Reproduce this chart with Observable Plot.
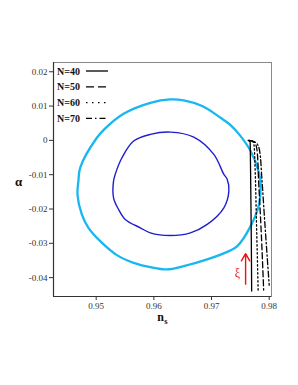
<!DOCTYPE html>
<html>
<head>
<meta charset="utf-8">
<script src="https://cdn.jsdelivr.net/npm/d3@7"></script>
<script src="https://cdn.jsdelivr.net/npm/@observablehq/plot@0.6"></script>
<style>
  html, body { margin: 0; padding: 0; background: #fff; }
  #chart { width: 298px; height: 385px; }
</style>
</head>
<body>
<div id="chart"></div>
<script>
// Outer (light blue) contour
const outerNs = [0.94692,0.94675,0.94751,0.94866,0.95070,0.95360,0.95649,0.95939,0.96230,0.96518,0.96925,0.97301,0.97447,0.97678,0.97823,0.97852,0.97823,0.97678,0.97504,0.97330,0.97157,0.96838,0.96518,0.96287,0.95939,0.95475,0.95157,0.95012,0.94722];
const outerAlpha = [-0.01187,-0.01574,-0.02157,-0.02548,-0.02936,-0.03344,-0.03569,-0.03694,-0.03761,-0.03665,-0.03469,-0.03227,-0.03082,-0.02499,-0.01866,-0.01274,-0.00945,-0.00312,0.00125,0.00446,0.00659,0.01000,0.01166,0.01195,0.01096,0.00776,0.00350,0.00076,-0.00799];
// Inner (dark blue) contour
const innerNs = [0.95301,0.95301,0.95388,0.95504,0.95765,0.95939,0.96287,0.96635,0.96925,0.97214,0.97301,0.97273,0.97214,0.97040,0.96692,0.96287,0.95939,0.95649,0.95447,0.95330];
const innerAlpha = [-0.01187,-0.01673,-0.02012,-0.02303,-0.02548,-0.02694,-0.02770,-0.02694,-0.02449,-0.01965,-0.01478,-0.01137,-0.00991,-0.00408,0.00096,0.00242,0.00175,-0.00020,-0.00507,-0.00991];
// Model predictions
const seriesNames = ["N=40","N=50","N=60","N=70"];
const n40Ns = [0.97635,0.97670,0.97675,0.97683,0.97690,0.97696];
const n40Alpha = [0.0000,-0.0005,-0.0060,-0.0177,-0.0294,-0.0439];
const n50Ns = [0.97652,0.97748,0.97791,0.97817,0.97861,0.97904];
const n50Alpha = [0.0000,-0.0005,-0.0031,-0.0119,-0.0264,-0.0436];
const n60Ns = [0.97643,0.97713,0.97739,0.97757,0.97779,0.97809];
const n60Alpha = [0.0000,-0.0002,-0.0017,-0.0089,-0.0235,-0.0439];
const n70Ns = [0.97660,0.97783,0.97835,0.97870,0.97922,0.98000];
const n70Alpha = [-0.0001,-0.0008,-0.0031,-0.0104,-0.0235,-0.0422];
// Arrow for xi
const arrowNs = [0.97591];
const arrowFrom = [-0.0419];
const arrowTo = [-0.0330];
const xiLabelNs = [0.97447];
const xiLabelAlpha = [-0.0387];
// Ticks
const xTicks = [0.95, 0.96, 0.97, 0.98];
const yTicks = [0.02, 0.01, 0, -0.01, -0.02, -0.03, -0.04];
const xDomain = [0.9426, 0.9804];
const yDomain = [-0.0455, 0.0227];

const pts = (xs, ys) => xs.map((x, i) => ({x, y: ys[i]}));
const dashes = {"N=40": null, "N=50": "6,3", "N=60": "1.4,2.6", "N=70": "6,2.5,1.4,2.5"};
const seriesData = {"N=40": pts(n40Ns, n40Alpha), "N=50": pts(n50Ns, n50Alpha), "N=60": pts(n60Ns, n60Alpha), "N=70": pts(n70Ns, n70Alpha)};

const serif = "'Liberation Serif', 'DejaVu Serif', serif";
const fmtY = d => d === 0 ? "0" : (d < 0 ? "-" : "") + Math.abs(d).toFixed(2);

const plot = Plot.plot({
  width: 298,
  height: 385,
  marginLeft: 53,
  marginRight: 27,
  marginTop: 62,
  marginBottom: 89,
  style: {fontFamily: serif, fontSize: "9px", background: "#fff", color: "#333"},
  x: {domain: xDomain},
  y: {domain: yDomain},
  marks: [
    Plot.frame({stroke: "#8a8a8a", strokeWidth: 1}),
    Plot.ruleX([xDomain[0]], {stroke: "#333", strokeWidth: 1.2}),
    Plot.ruleY([yDomain[0]], {stroke: "#333", strokeWidth: 1.2}),
    Plot.axisX({ticks: xTicks, tickSize: 4, tickPadding: 2, tickFormat: d => d.toFixed(2), label: null, fill: "#333", stroke: "#333"}),
    Plot.axisY({ticks: yTicks, tickSize: 4, tickPadding: 2, tickFormat: fmtY, label: null, fill: "#333", stroke: "#333"}),
    Plot.line(pts(outerNs, outerAlpha), {x: "x", y: "y", stroke: "#17b7f2", strokeWidth: 2.3, curve: "catmull-rom-closed"}),
    Plot.line(pts(innerNs, innerAlpha), {x: "x", y: "y", stroke: "#1e1ecf", strokeWidth: 1.4, curve: "catmull-rom-closed"}),
    ...seriesNames.map(n => Plot.line(seriesData[n], {x: "x", y: "y", stroke: "#000", strokeWidth: 1.3, strokeDasharray: dashes[n], curve: "monotone-y"})),
    Plot.arrow(arrowNs.map((x, i) => ({x, y1: arrowFrom[i], y2: arrowTo[i]})), {x1: "x", x2: "x", y1: "y1", y2: "y2", stroke: "#f01010", strokeWidth: 1.4, headLength: 9}),
    Plot.text(xiLabelNs.map((x, i) => ({x, y: xiLabelAlpha[i]})), {x: "x", y: "y", text: () => "ξ", fill: "#f01010", fontSize: 12, fontFamily: serif}),
    Plot.text(["α"], {frameAnchor: "left", textAnchor: "middle", lineAnchor: "middle", dx: -35, dy: 2, text: d => d, fontSize: 13, fontWeight: "bold", fontFamily: serif, fill: "#111"}),
    Plot.text(["n"], {frameAnchor: "bottom", lineAnchor: "middle", dy: 21, dx: -2, text: d => d, fontSize: 12, fontWeight: "bold", fontFamily: serif, fill: "#111"}),
    Plot.text(["s"], {frameAnchor: "bottom", lineAnchor: "middle", dy: 25, dx: 3.5, text: d => d, fontSize: 8.5, fontWeight: "bold", fontFamily: serif, fill: "#111"})
  ]
});

document.getElementById("chart").appendChild(plot);

// Legend (top-left inside plot)
const svg = d3.select(plot);
const lg = svg.append("g").attr("font-family", serif).attr("text-anchor", "start");
seriesNames.forEach((n, i) => {
  const yy = 71 + i * 15.8;
  lg.append("text").attr("x", 57).attr("y", yy).attr("dy", "0.35em")
    .attr("font-size", 10).attr("font-weight", "bold").attr("fill", "#111").text(n);
  lg.append("line").attr("x1", 86).attr("x2", 108).attr("y1", yy).attr("y2", yy)
    .attr("stroke", "#000").attr("stroke-width", 1.3)
    .attr("stroke-dasharray", n === "N=40" ? null : n === "N=50" ? "8,4" : n === "N=60" ? "1.5,4.5" : "6,3,1.5,3");
});
</script>
</body>
</html>
